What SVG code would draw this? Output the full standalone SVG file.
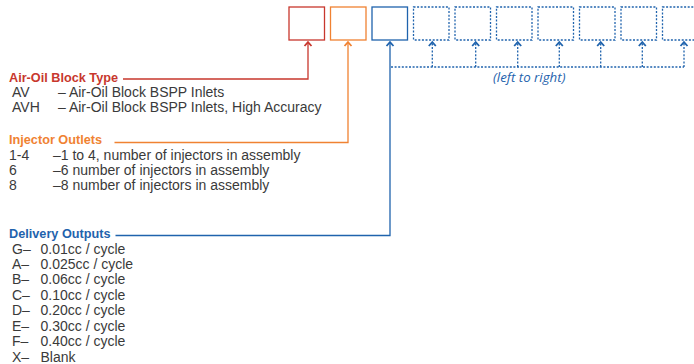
<svg xmlns="http://www.w3.org/2000/svg" width="694" height="364" viewBox="0 0 694 364">
<defs>
<style>
text{font-family:"Liberation Sans",Arial,sans-serif;font-size:14px;fill:#3a3a3a}
.h{font-weight:bold;font-size:12.7px}
.red{stroke:#c8372d}
.org{stroke:#f08232}
.blu{stroke:#1f63ad}
.box{fill:none;stroke-width:1.3}
.dot{fill:none;stroke:#1f63ad;stroke-width:1.3;stroke-dasharray:2 1.6}
.ln{fill:none;stroke-width:1.3}
.ah{fill:none;stroke-width:1.8;stroke-linejoin:miter}
</style>
<path id="ah" d="M-3.5,46 L0,42.2 L3.5,46"/>
</defs>
<rect width="694" height="364" fill="#ffffff"/>
<g id="box-type"><rect class="box red" x="289" y="7" width="35.5" height="33"/></g>
<g id="box-injector"><rect class="box org" x="330.5" y="7" width="35.5" height="33"/></g>
<g id="box-delivery"><rect class="box blu" x="372" y="7" width="35.5" height="33"/></g>
<g id="box-d2"><rect class="dot" x="413.5" y="7" width="35.5" height="33"/></g>
<g id="box-d3"><rect class="dot" x="455" y="7" width="35.5" height="33"/></g>
<g id="box-d4"><rect class="dot" x="496.5" y="7" width="35.5" height="33"/></g>
<g id="box-d5"><rect class="dot" x="538" y="7" width="35.5" height="33"/></g>
<g id="box-d6"><rect class="dot" x="579.5" y="7" width="35.5" height="33"/></g>
<g id="box-d7"><rect class="dot" x="621" y="7" width="35.5" height="33"/></g>
<g id="box-d8"><rect class="dot" x="662.5" y="7" width="35.5" height="33"/></g>
<g id="connectors">
<path class="ln red" d="M123,79 H308 V43"/>
<use href="#ah" x="308" class="ah red"/>
<path class="ln org" d="M114.5,142.5 H348 V43"/>
<use href="#ah" x="348" class="ah org"/>
<path class="ln blu" d="M115.5,235.5 H390 V43"/>
<use href="#ah" x="390" class="ah blu"/>
<path class="dot" d="M391,67 H684 M432.3,67 V43 M475.7,67 V43 M517.7,67 V43 M559.3,67 V43 M600.7,67 V43 M642.3,67 V43 M684,67 V43"/>
<use href="#ah" x="432.3" class="ah blu"/>
<use href="#ah" x="475.7" class="ah blu"/>
<use href="#ah" x="517.7" class="ah blu"/>
<use href="#ah" x="559.3" class="ah blu"/>
<use href="#ah" x="600.7" class="ah blu"/>
<use href="#ah" x="642.3" class="ah blu"/>
<use href="#ah" x="684" class="ah blu"/>
</g>
<g id="note"><text x="493" y="82" style="font-family:'Open Sans',sans-serif;font-style:italic;fill:#1f63ad;font-size:13.3px">(left to right)</text></g>
<g id="air-oil">
<text class="h" x="9" y="82" style="fill:#c8372d">Air-Oil Block Type</text>
<text x="12" y="97">AV</text><text x="58" y="97">– Air-Oil Block BSPP Inlets</text>
<text x="12" y="112">AVH</text><text x="58" y="112">– Air-Oil Block BSPP Inlets, High Accuracy</text>
</g>
<g id="injector">
<text class="h" x="9" y="144" style="fill:#f08232">Injector Outlets</text>
<text x="9" y="160">1-4</text><text x="53" y="160">–1 to 4, number of injectors in assembly</text>
<text x="9" y="175">6</text><text x="53" y="175">–6 number of injectors in assembly</text>
<text x="9" y="190">8</text><text x="53" y="190">–8 number of injectors in assembly</text>
</g>
<g id="delivery">
<text class="h" x="9" y="238" style="fill:#1f63ad">Delivery Outputs</text>
<text x="12" y="253.5">G–</text><text x="40.5" y="253.5">0.01cc / cycle</text>
<text x="12" y="269">A–</text><text x="40.5" y="269">0.025cc / cycle</text>
<text x="12" y="284.4">B–</text><text x="40.5" y="284.4">0.06cc / cycle</text>
<text x="12" y="299.9">C–</text><text x="40.5" y="299.9">0.10cc / cycle</text>
<text x="12" y="315.3">D–</text><text x="40.5" y="315.3">0.20cc / cycle</text>
<text x="12" y="330.8">E–</text><text x="40.5" y="330.8">0.30cc / cycle</text>
<text x="12" y="346.2">F–</text><text x="40.5" y="346.2">0.40cc / cycle</text>
<text x="12" y="361.7">X–</text><text x="40.5" y="361.7">Blank</text>
</g>
</svg>
